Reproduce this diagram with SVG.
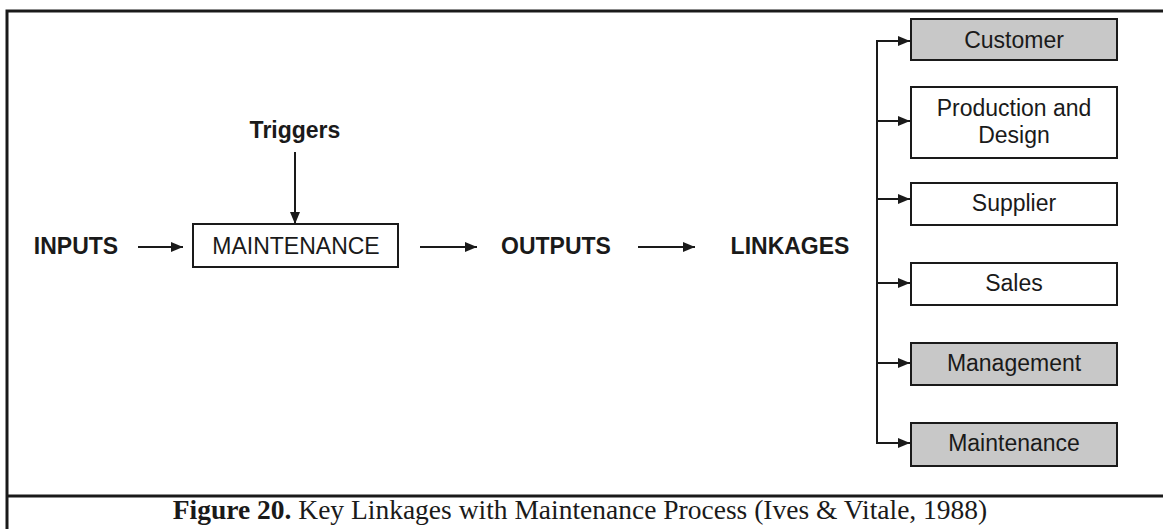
<svg xmlns="http://www.w3.org/2000/svg" width="1163" height="529" viewBox="0 0 1163 529">
<style>
.lbl{font-family:"Liberation Sans",Arial,sans-serif;font-size:23px;fill:#1a1a1a;text-anchor:middle}
.b{font-weight:bold}
.box{fill:#ffffff;stroke:#1a1a1a;stroke-width:2}
.gray{fill:#c8c8c8}
.conn{stroke:#1a1a1a;stroke-width:2;fill:none}
.frame{stroke:#1a1a1a;stroke-width:3;fill:none}
</style>
<defs>
<marker id="ah" markerWidth="12" markerHeight="10" refX="12" refY="5" orient="auto" markerUnits="userSpaceOnUse">
<path d="M0,0 L12,5 L0,10 Z" fill="#1a1a1a"/>
</marker>
</defs>
<rect width="1163" height="529" fill="#ffffff"/>
<g id="frame">
<path class="frame" d="M7,529 V11 H1163"/>
<path class="frame" d="M7,496 H1163"/>
</g>
<g id="triggers"><text class="lbl b" x="295" y="138">Triggers</text></g>
<g id="inputs"><text class="lbl b" x="76" y="254">INPUTS</text></g>
<g id="maintenance"><rect class="box" x="193" y="224" width="205" height="43"/><text class="lbl" x="296" y="254">MAINTENANCE</text></g>
<g id="outputs"><text class="lbl b" x="556" y="254">OUTPUTS</text></g>
<g id="linkages"><text class="lbl b" x="790" y="254">LINKAGES</text></g>
<g id="customer"><rect class="box gray" x="911" y="19" width="206" height="41"/><text class="lbl" x="1014" y="48">Customer</text></g>
<g id="production"><rect class="box" x="911" y="87" width="206" height="71"/><text class="lbl" x="1014" y="116">Production and</text><text class="lbl" x="1014" y="143">Design</text></g>
<g id="supplier"><rect class="box" x="911" y="183" width="206" height="42"/><text class="lbl" x="1014" y="211">Supplier</text></g>
<g id="sales"><rect class="box" x="911" y="263" width="206" height="42"/><text class="lbl" x="1014" y="291">Sales</text></g>
<g id="management"><rect class="box gray" x="911" y="343" width="206" height="42"/><text class="lbl" x="1014" y="371">Management</text></g>
<g id="maintenance2"><rect class="box gray" x="911" y="423" width="206" height="43"/><text class="lbl" x="1014" y="451">Maintenance</text></g>
<g id="connectors">
<line class="conn" x1="295" y1="152" x2="295" y2="224" marker-end="url(#ah)"/>
<line class="conn" x1="138" y1="247" x2="183" y2="247" marker-end="url(#ah)"/>
<line class="conn" x1="420" y1="247" x2="477" y2="247" marker-end="url(#ah)"/>
<line class="conn" x1="638" y1="247" x2="695" y2="247" marker-end="url(#ah)"/>
<path class="conn" d="M910,41 H877 V443 H910" marker-end="url(#ah)"/>
<line class="conn" x1="877" y1="41" x2="910" y2="41" marker-end="url(#ah)"/>
<line class="conn" x1="877" y1="121" x2="910" y2="121" marker-end="url(#ah)"/>
<line class="conn" x1="877" y1="199" x2="910" y2="199" marker-end="url(#ah)"/>
<line class="conn" x1="877" y1="283" x2="910" y2="283" marker-end="url(#ah)"/>
<line class="conn" x1="877" y1="363" x2="910" y2="363" marker-end="url(#ah)"/>
</g>
<g id="caption"><text x="580" y="519" font-family="'Liberation Serif','Times New Roman',serif" font-size="27.5" fill="#1a1a1a" text-anchor="middle"><tspan font-weight="bold">Figure 20.</tspan> Key Linkages with Maintenance Process (Ives &amp; Vitale, 1988)</text></g>
</svg>
